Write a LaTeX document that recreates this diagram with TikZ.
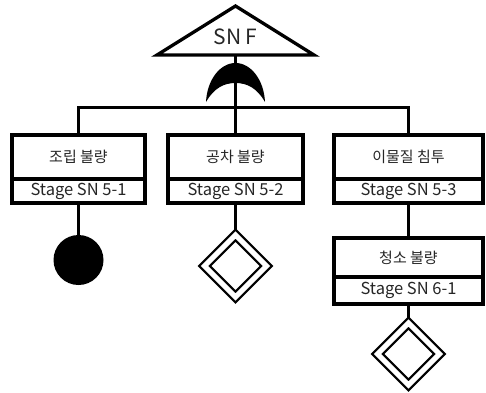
\documentclass[tikz,border=0pt]{standalone}
\usepackage{fontspec}
\setmainfont{Noto Sans CJK KR}
\usetikzlibrary{positioning,shapes.geometric,backgrounds}

\begin{document}
\begin{tikzpicture}[x=1pt, y=-1pt, line width=3.3pt, every node/.style={text=black!85},
  faultbox/.style={draw,fill=white,outer sep=0pt,inner sep=0pt,minimum height=44pt,font=\fontsize{15}{18}\selectfont},
  stagebox/.style={draw,fill=white,outer sep=0pt,inner sep=0pt,minimum height=24pt,font=\fontsize{16.5}{19}\selectfont},
  basic/.style={circle,fill=black,minimum size=50pt,inner sep=0pt,outer sep=0pt},
  undev/.style={diamond,draw,fill=white,double,double distance=5pt,line width=2.3pt,minimum size=62pt,inner sep=0pt,outer sep=0pt},
  link/.style={line width=3.3pt}]
\useasboundingbox (0,0) rectangle (486,392);
% top event
\draw (235.5,6) -- (314,55) -- (157,55) -- cycle;
\node[font=\fontsize{21}{24}\selectfont] (top) at (235.5,37) {SN F};
\coordinate (topbase) at (235.5,55);
\coordinate (bar) at (235.5,107.5);
% OR gate
\fill (206,102) .. controls (207,80) and (220,63) .. (235.5,63) .. controls (251,63) and (264,80) .. (265,102) .. controls (257,88) and (247,83) .. (235.5,83) .. controls (224,83) and (214,88) .. (206,102) -- cycle;
% intermediate events
\node[faultbox,minimum width=133pt] (fault1) at (78.5,157) {조립 불량};
\node[stagebox,minimum width=133pt,below=0pt of fault1] (stage1) {Stage SN 5-1};
\node[faultbox,minimum width=135pt] (fault2) at (235.5,157) {공차 불량};
\node[stagebox,minimum width=135pt,below=0pt of fault2] (stage2) {Stage SN 5-2};
\node[faultbox,minimum width=149pt] (fault3) at (408.5,157) {이물질 침투};
\node[stagebox,minimum width=149pt,below=0pt of fault3] (stage3) {Stage SN 5-3};
\node[faultbox,minimum width=149pt,minimum height=39pt] (fault4) at (408.5,257.5) {청소 불량};
\node[stagebox,minimum width=149pt,minimum height=27pt,below=0pt of fault4] (stage4) {Stage SN 6-1};
% basic and undeveloped events
\node[basic] (basic1) at (78.5,260) {};
\node[undev] (undev2) at (235.5,266) {};
\node[undev] (undev4) at (408.5,354) {};
\begin{scope}[on background layer]
\draw[link] (topbase) -- (bar);
\draw[link] (fault1.north) |- (bar) -| (fault3.north);
\draw[link] (bar) -- (fault2.north);
\draw[link] (stage1.south) -- (basic1.north);
\draw[link] (stage2.south) -- (undev2.north);
\draw[link] (stage3.south) -- (fault4.north);
\draw[link] (stage4.south) -- (undev4.north);
\end{scope}
\end{tikzpicture}
\end{document}
